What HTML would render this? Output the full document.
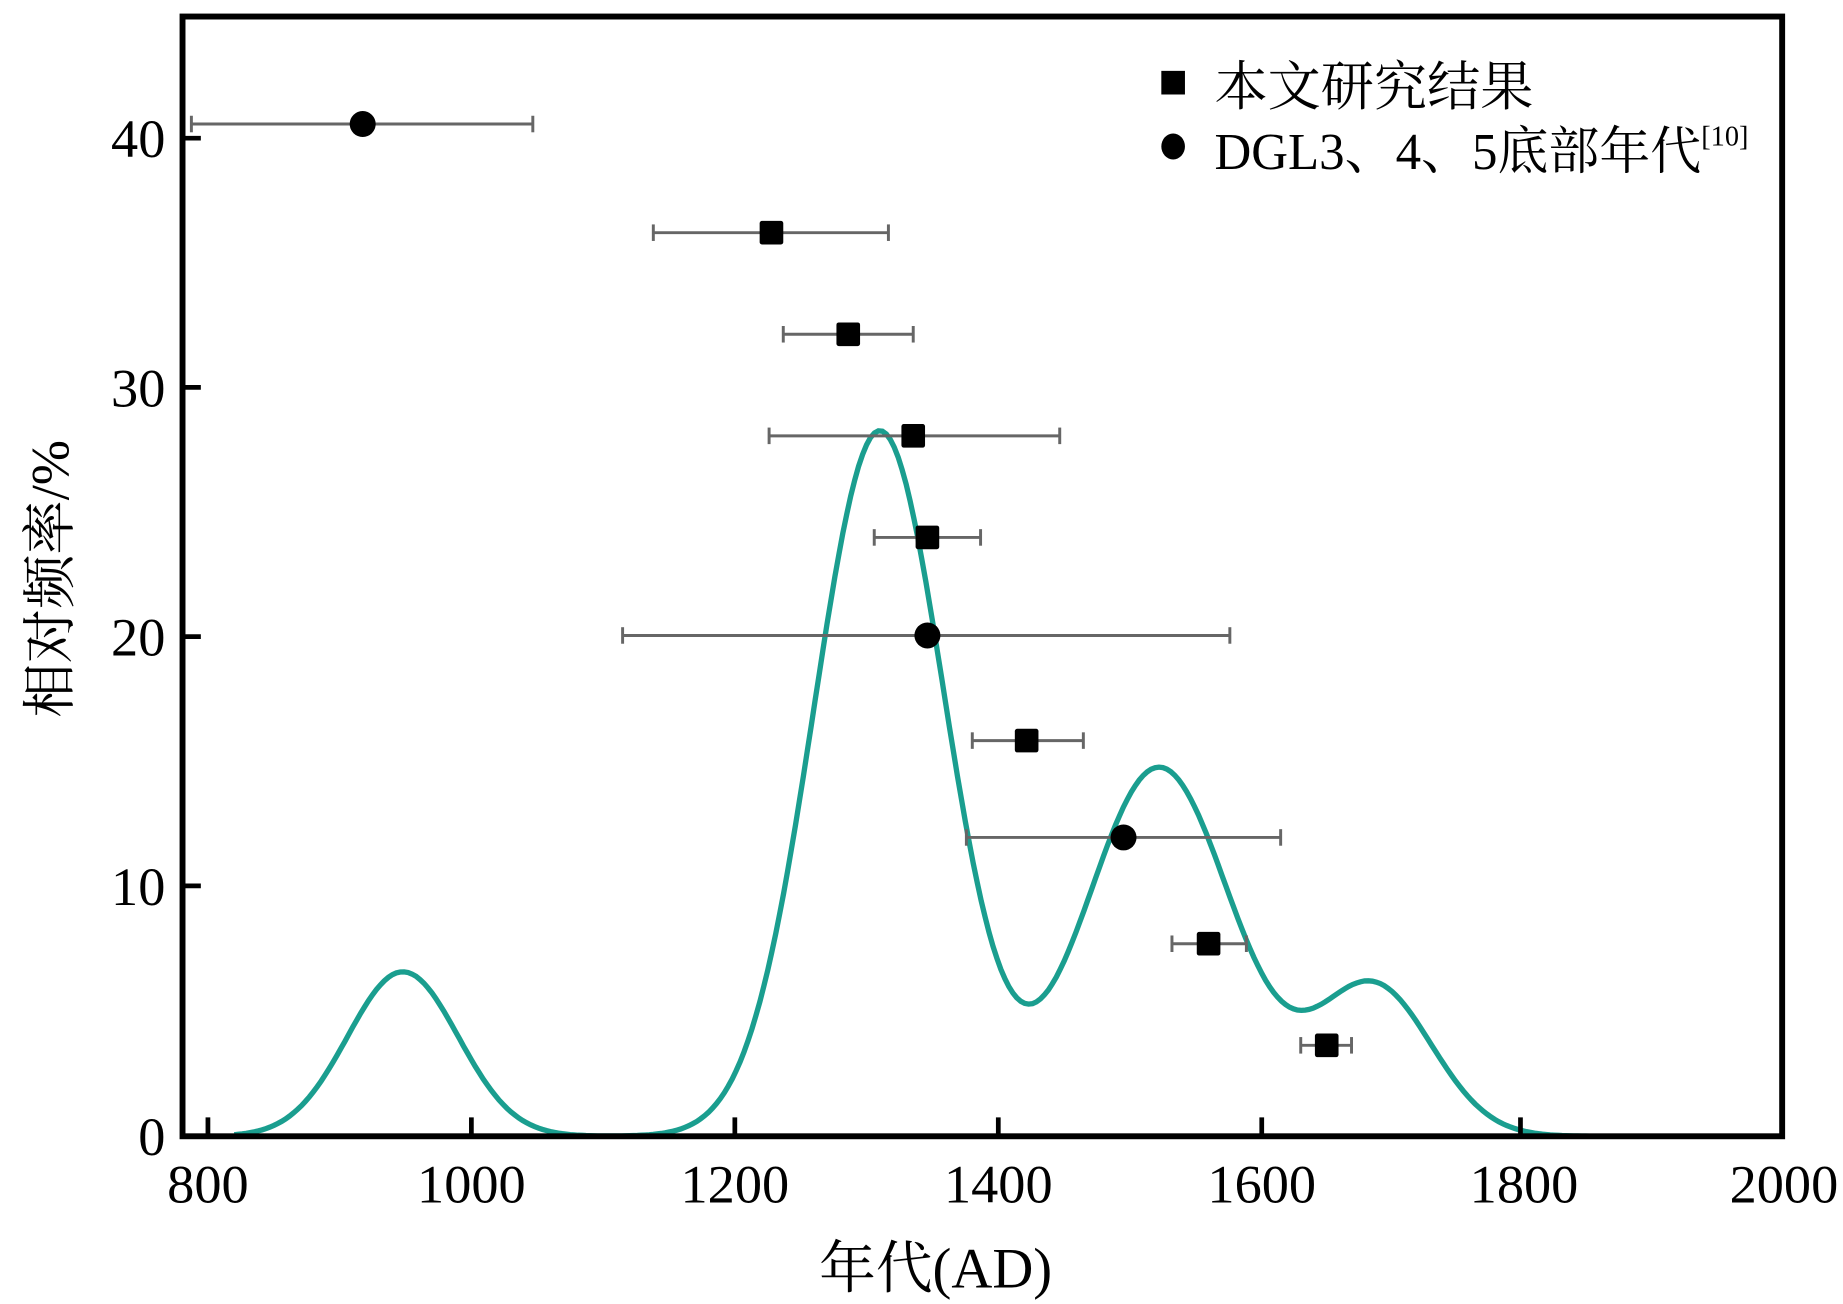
<!DOCTYPE html>
<html><head><meta charset="utf-8"><style>
html,body{margin:0;padding:0;background:#fff;}
svg{display:block;}
text{font-family:"Liberation Serif","Noto Serif CJK SC","Noto Sans CJK SC",serif;fill:#000;}
</style></head><body>
<svg id="s" width="1843" height="1304" viewBox="0 0 1560 1104" preserveAspectRatio="none" xmlns="http://www.w3.org/2000/svg">
<rect x="0" y="0" width="1560" height="1104" fill="#fff"/>
<path id="curve" d="" fill="none" stroke="#1a9e8f" stroke-width="4.5"/>
<g id="err" stroke="#666" stroke-width="2.5"></g>
<g id="mk" fill="#000"></g>
<rect x="154.5" y="14" width="1354" height="948" fill="none" stroke="#000" stroke-width="5"/>
<g stroke="#000" stroke-width="4">
<line x1="154" y1="117" x2="170" y2="117"/><line x1="154" y1="328" x2="170" y2="328"/><line x1="154" y1="539" x2="170" y2="539"/><line x1="154" y1="750" x2="170" y2="750"/>
<line x1="176" y1="962" x2="176" y2="946"/><line x1="399" y1="962" x2="399" y2="946"/><line x1="622" y1="962" x2="622" y2="946"/><line x1="845" y1="962" x2="845" y2="946"/><line x1="1068" y1="962" x2="1068" y2="946"/><line x1="1287" y1="962" x2="1287" y2="946"/>
</g>
<g font-size="46" text-anchor="end">
<text x="140" y="133">40</text><text x="140" y="344">30</text><text x="140" y="555">20</text><text x="140" y="766">10</text><text x="140" y="978">0</text>
</g>
<g font-size="46" text-anchor="middle">
<text x="176" y="1018">800</text><text x="399" y="1018">1000</text><text x="622" y="1018">1200</text><text x="845" y="1018">1400</text><text x="1068" y="1018">1600</text><text x="1290" y="1018">1800</text><text x="1510" y="1018">2000</text>
</g>
<text x="792" y="1090" font-size="48" text-anchor="middle">年代(AD)</text>
<text transform="translate(58,490) rotate(-90)" font-size="46" text-anchor="middle">相对频率/%</text>
<rect x="983" y="60" width="20" height="20" fill="#000"/>
<text x="1028" y="89" font-size="45">本文研究结果</text>
<ellipse cx="993" cy="124" rx="10" ry="11" fill="#000"/>
<text x="1028" y="143" font-size="44" textLength="412" lengthAdjust="spacingAndGlyphs">DGL3、4、5底部年代</text><text x="1440" y="123" font-size="24">[10]</text>
</svg>
<script>
var X=function(v){return 176+(v-800)*1.115;},Y=function(v){return 962-v*21.1;};
var comps=[[6.6,948,42],[28.3,1310,50],[14.8,1522,56],[6.0,1685,44]];
var d="";for(var v=820;v<=1980;v+=3){var s=0;comps.forEach(function(c){s+=c[0]*Math.exp(-Math.pow(v-c[1],2)/(2*c[2]*c[2]));});d+=(d?"L":"M")+X(v).toFixed(1)+","+Y(s).toFixed(1);}
document.getElementById("curve").setAttribute("d",d);
var pts=[["c",307,105,162,451],["s",653,197,553,752],["s",718,283,663,773],["s",773,369,651,897],["s",785,455,740,830],["c",785,538,527,1041],["s",869,627,823,917],["c",951,709,818,1084],["s",1023,799,992,1055],["s",1123,885,1101,1144]];
var e="",m="";pts.forEach(function(p){e+='<line x1="'+p[3]+'" y1="'+p[2]+'" x2="'+p[4]+'" y2="'+p[2]+'"/><line x1="'+p[3]+'" y1="'+(p[2]-7)+'" x2="'+p[3]+'" y2="'+(p[2]+7)+'"/><line x1="'+p[4]+'" y1="'+(p[2]-7)+'" x2="'+p[4]+'" y2="'+(p[2]+7)+'"/>';
if(p[0]=="s")m+='<rect x="'+(p[1]-10)+'" y="'+(p[2]-10)+'" width="20" height="20" rx="2"/>';else m+='<circle cx="'+p[1]+'" cy="'+p[2]+'" r="11"/>';});
document.getElementById("err").innerHTML=e;document.getElementById("mk").innerHTML=m;
</script>
</body></html>
